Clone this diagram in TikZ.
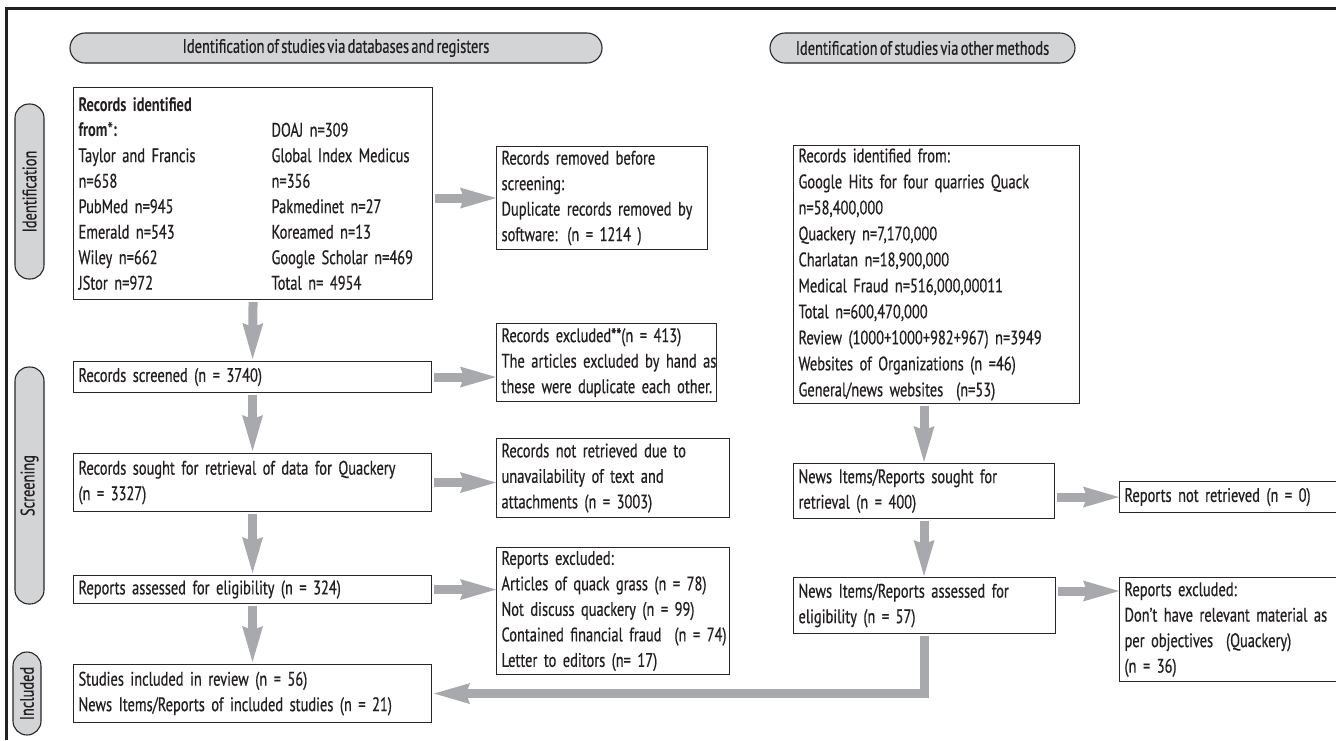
\documentclass[tikz,border=0pt]{standalone}
\usepackage{fontspec}
\setmainfont{PT Sans}[FakeStretch=0.74, WordSpace=0.6, UprightFeatures={FakeBold=0.6}]
\usetikzlibrary{arrows.meta,calc}
\definecolor{boxc}{RGB}{40,38,40}
\definecolor{txtc}{RGB}{35,31,32}
\definecolor{pillc}{RGB}{211,212,214}
\definecolor{arrc}{RGB}{167,169,172}
\definecolor{framec}{RGB}{35,31,32}
\tikzset{
  boxn/.style={draw=boxc, line width=1.1pt, anchor=north west, align=left,
    inner xsep=5pt, inner ysep=0pt, text=txtc,
    minimum width=#1, text width=#1-10pt,
    font=\fontsize{19.5}{25.5}\selectfont},
  pill/.style={draw=boxc, fill=pillc, line width=1.1pt, rounded corners=14pt,
    inner sep=0pt, text=txtc, font=\fontsize{19.5}{25.5}\selectfont},
  fat/.style={draw=arrc, line width=9pt, line join=miter, shorten <=2pt,
    -{Stealth[length=36pt,width=21pt,inset=4pt,line width=0pt]}},
}
\newcommand{\col}[2]{\mbox{\makebox[193pt][l]{#1}#2}}
\begin{document}
\begin{tikzpicture}[x=1pt,y=-1pt]
\useasboundingbox (0,0) rectangle (1336,740);
\draw[line width=3pt, draw=framec] (6.5,740) -- (6.5,8) -- (1336,8);

% header pills
\node[pill, rounded corners=15pt, minimum width=532pt, minimum height=30pt] (p1) at (336,48)
  {Identification of studies via databases and registers};
\node[pill, rounded corners=15pt, minimum width=305pt, minimum height=30pt] (p2) at (922.5,48)
  {Identification of studies via other methods};
% side pills
\node[pill, rotate=90, minimum width=175pt, minimum height=29pt] (s1) at (29.5,191.5) {Identification};
\node[pill, rotate=90, minimum width=237pt, minimum height=29pt] (s2) at (29.5,485.5) {Screening};
\node[pill, rotate=90, minimum width=83pt, minimum height=28pt] (s3) at (27,693.5) {Included};

% left column
\node[boxn=359pt, minimum height=212pt] (A) at (73,87) {%
  \mbox{\textbf{Records identified}}\\
  \col{\textbf{from*:}}{DOAJ n=309}\\
  \col{Taylor and Francis}{Global Index Medicus}\\
  \col{n=658}{n=356}\\
  \col{PubMed n=945}{Pakmedinet n=27}\\
  \col{Emerald n=543}{Koreamed n=13}\\
  \col{Wiley n=662}{Google Scholar n=469}\\
  \col{JStor n=972}{Total n= 4954}};
\node[boxn=358pt, minimum height=31pt] (C) at (73,361)
  {\mbox{Records screened (n = 3740)}};
\node[boxn=358pt, minimum height=58pt] (D) at (73,453)
  {\mbox{Records sought for retrieval of data for Quackery}\\ \mbox{(n = 3327)}};
\node[boxn=358pt, minimum height=28pt] (E) at (73,575)
  {\mbox{Reports assessed for eligibility (n = 324)}};
\node[boxn=358pt, minimum height=58pt] (F) at (73,664)
  {\mbox{Studies included in review (n = 56)}\\ \mbox{News Items/Reports of included studies (n = 21)}};

% middle column
\node[boxn=211pt, minimum height=103pt] (B) at (496,146)
  {\mbox{Records removed before}\\ \mbox{screening:}\\ \mbox{Duplicate records removed by}\\ \mbox{software: (n = 1214 )}};
\node[boxn=220pt, minimum height=78pt] (G) at (496,323)
  {\mbox{Records excluded**(n = 413)}\\ \mbox{The articles excluded by hand as}\\ \mbox{these were duplicate each other.}};
\node[boxn=233pt, minimum height=79pt] (H) at (496,438)
  {\mbox{Records not retrieved due to}\\ \mbox{unavailability of text and}\\ \mbox{attachments (n = 3003)}};
\node[boxn=233pt, minimum height=127pt] (I) at (496,547)
  {\mbox{Reports excluded:}\\ \mbox{Articles of quack grass (n = 78)}\\ \mbox{Not discuss quackery (n = 99)}\\
   \mbox{Contained financial fraud\ \ (n = 74)}\\ \mbox{Letter to editors (n= 17)}};

% right side
\node[boxn=286pt, minimum height=258pt, font=\fontsize{19.5}{26}\selectfont] (J) at (793,145)
  {\mbox{Records identified from:}\\ \mbox{Google Hits for four quarries Quack}\\ \mbox{n=58,400,000}\\
   \mbox{Quackery n=7,170,000}\\ \mbox{Charlatan n=18,900,000}\\ \mbox{Medical Fraud n=516,000,00011}\\
   \mbox{Total n=600,470,000}\\ \mbox{Review (1000+1000+982+967) n=3949}\\
   \mbox{Websites of Organizations (n =46)}\\ \mbox{General/news websites\ \ (n=53)}};
\node[boxn=261pt, minimum height=55pt] (K) at (793,463)
  {\mbox{News Items/Reports sought for}\\ \mbox{retrieval (n = 400)}};
\node[boxn=262pt, minimum height=56pt] (M) at (793,577)
  {\mbox{News Items/Reports assessed for}\\ \mbox{eligibility (n = 57)}};
\node[boxn=240pt, minimum height=31pt] (L) at (1119,481)
  {\mbox{Reports not retrieved (n = 0)}};
\node[boxn=240pt, minimum height=104pt] (N) at (1119,577)
  {\mbox{Reports excluded:}\\ \mbox{Don’t have relevant material as}\\ \mbox{per objectives\ \ (Quackery)}\\ \mbox{(n = 36)}};

% connectors
\draw[fat, shorten >=2pt] (A.south) -- (C.north);
\draw[fat, shorten >=2pt] (C.south) -- (D.north);
\draw[fat, shorten >=2pt] (D.south) -- (E.north);
\draw[fat, shorten >=2pt] (E.south) -- (F.north);
\draw[fat] (A.east |- B.west) -- (B.west);
\draw[fat] (C.east) -- (C.east -| G.west);
\draw[fat] (D.east) -- (D.east -| H.west);
\draw[fat] (E.east) -- (E.east -| I.west);
\draw[fat, shorten >=1pt] (K.north |- J.south) -- (K.north);
\draw[fat, shorten >=1pt] (K.south) -- (K.south |- M.north);
\draw[fat] (K.east |- L.west) -- (L.west);
\coordinate (nin) at ([yshift=-14pt]N.north west);
\draw[fat] (M.east |- nin) -- (nin);
\draw[fat, shorten >=2pt] (M.south) |- (F.east);
\end{tikzpicture}
\end{document}
